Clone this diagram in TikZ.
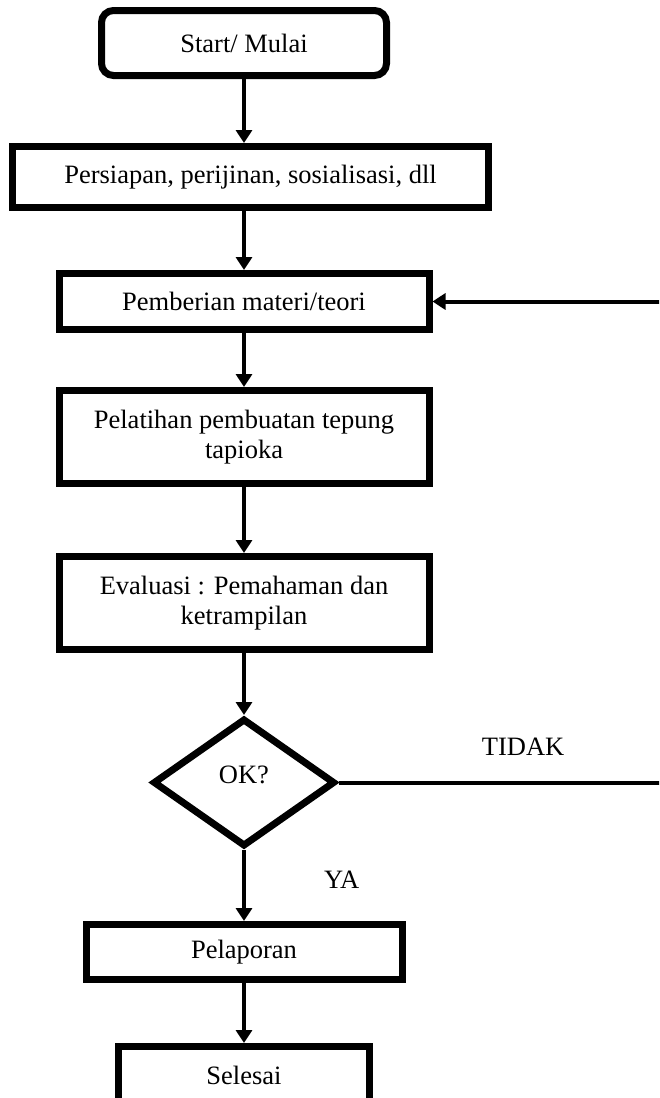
\documentclass[tikz,border=0pt]{standalone}
\usepackage{fontspec}
\setmainfont{Liberation Serif}
\usetikzlibrary{shapes,arrows.meta}
\usetikzlibrary{positioning}

\begin{document}
\begin{tikzpicture}[x=1pt, y=1pt,
    >={Triangle[length=13pt,width=16pt]},
    every node/.style={font=\fontsize{26.5}{30}\selectfont},
    box/.style={rectangle, draw=black, line width=7pt, align=center, inner sep=0pt},
    conn/.style={->, line width=4pt},
    lbl/.style={inner sep=0pt, outer sep=0pt}]
	  \useasboundingbox (0,0) rectangle (659,-1098);
	  \clip (0,0) rectangle (659,-1098);
	  \node[box, rounded corners=12pt, minimum width=285pt, minimum height=65pt] (start) at (244,-43) {Start/ Mulai};
	  \node[box, minimum width=476pt, minimum height=61pt, below=64pt of start, xshift=6.5pt] (persiapan) {Persiapan, perijinan, sosialisasi, dll};
	  \node[box, minimum width=370pt, minimum height=56pt, below=59pt of persiapan, xshift=-6.5pt] (pemberian) {Pemberian materi/teori};
	  \node[box, minimum width=370pt, minimum height=93pt, below=54pt of pemberian] (pelatihan) {Pelatihan pembuatan tepung\\tapioka};
	  \node[box, minimum width=370pt, minimum height=93pt, below=66pt of pelatihan] (evaluasi) {Evaluasi : Pemahaman dan\\ketrampilan};
	  \node[diamond, draw=black, line width=7pt, inner sep=0pt, text depth=16pt, minimum width=182pt, minimum height=128pt, below=62pt of evaluasi] (ok) {OK?};
	  \node[box, minimum width=316pt, minimum height=55pt, below=71pt of ok] (pelaporan) {Pelaporan};
	  \node[box, minimum width=251pt, minimum height=57pt, below=60pt of pelaporan] (selesai) {Selesai};
	  \coordinate[right=355pt of ok.east] (turn);
	  \draw[conn] (start) -- (start |- persiapan.north);
	  \draw[conn] (pemberian |- persiapan.south) -- (pemberian);
	  \draw[conn] (pemberian) -- (pelatihan);
	  \draw[conn] (pelatihan) -- (evaluasi);
	  \draw[conn] (evaluasi) -- (ok);
	  \draw[conn] (ok) -- node[lbl, pos=0.42, right=80pt] {YA} (pelaporan);
	  \draw[conn] (pelaporan) -- (selesai);
	  \draw[conn] (ok.east) -- node[lbl, pos=0.52, above=27pt] {TIDAK} (turn) |- (pemberian.east);
	\end{tikzpicture}
\end{document}
